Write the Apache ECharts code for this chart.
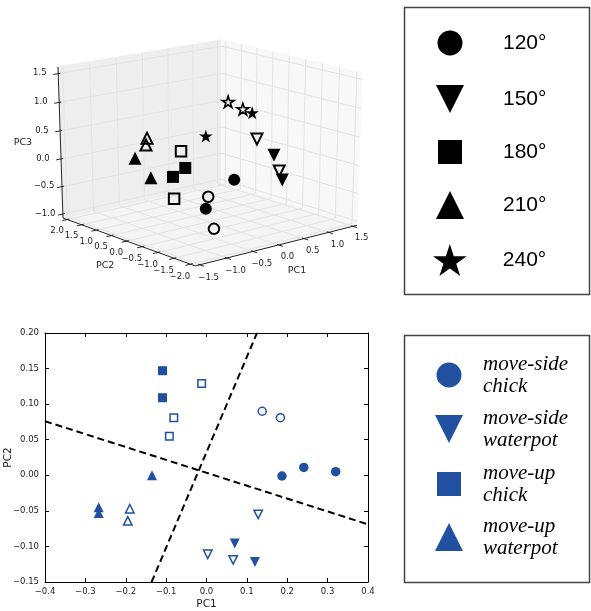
<!DOCTYPE html>
<html><head><meta charset="utf-8">
<script src="https://cdn.jsdelivr.net/npm/echarts@6/dist/echarts.min.js"></script>
<style>html,body{margin:0;padding:0;background:#fff}#c{width:591px;height:611px}</style>
</head><body><div id="c"></div>
<script>
// ================= DATA =================
// --- top panel: 3D PCA scores (PC1, PC2, PC3) per angle group ---
const angleNames = ['120°', '150°', '180°', '210°', '240°'];
const a120Filled = [[0.18, -0.5, -0.26], [-0.62, -0.9, -0.54]];
const a120Open   = [[-0.45, -0.7, -0.40], [-0.65, -1.2, -0.83]];
const a150Filled = [[0.64, -1.0, 0.17], [0.48, -1.5, -0.15]];
const a150Open   = [[0.43, -0.8, 0.46], [0.55, -1.3, -0.04]];
const a180Filled = [[-0.22, 0.4, -0.13], [-0.28, 0.7, -0.33]];
const a180Open   = [[-0.18, 0.6, 0.13], [-0.50, 0.3, -0.61]];
const a210Filled = [[-0.60, 1.4, -0.05], [-0.59, 0.9, -0.32]];
const a210Open   = [[-0.48, 1.2, 0.32], [-0.56, 1.1, 0.23]];
const a240Filled = [[0.06, 0.2, 0.42], [0.59, -0.4, 0.83]];
const a240Open   = [[0.37, 0.0, 1.00], [0.47, -0.3, 0.90]];
const pc1Ticks3d = [-1.5, -1.0, -0.5, 0.0, 0.5, 1.0, 1.5];
const pc2Ticks3d = [-2.0, -1.5, -1.0, -0.5, 0.0, 0.5, 1.0, 1.5, 2.0];
const pc3Ticks3d = [-1.0, -0.5, 0.0, 0.5, 1.0, 1.5];
const pc1Lim3d = [-1.52, 1.52];
const pc2Lim3d = [-2.06, 2.06];
const pc3Lim3d = [-1.02, 1.56];

// --- bottom panel: 2D PCA scores (PC1, PC2) ---
const groupNames = ['move-side chick', 'move-side waterpot', 'move-up chick', 'move-up waterpot'];
const msChickFilled = [[0.187, -0.001], [0.241, 0.011], [0.320, 0.005]];
const msChickOpen   = [[0.138, 0.090], [0.183, 0.081]];
const msWaterFilled = [[0.070, -0.096], [0.120, -0.122]];
const msWaterOpen   = [[0.128, -0.055], [0.003, -0.111], [0.066, -0.119]];
const muChickFilled = [[-0.109, 0.147], [-0.109, 0.109]];
const muChickOpen   = [[-0.012, 0.129], [-0.081, 0.081], [-0.092, 0.055]];
const muWaterFilled = [[-0.135, 0.000], [-0.267, -0.045], [-0.267, -0.053]];
const muWaterOpen   = [[-0.190, -0.047], [-0.195, -0.064]];
const boundaryA = [[-0.4, 0.076], [0.4, -0.069]];
const boundaryB = [[-0.136, -0.15], [0.125, 0.20]];
const pc1Ticks = [-0.4, 0.4, 0.1];   // min, max, step
const pc2Ticks = [-0.15, 0.20, 0.05];

// ================= 3D PROJECTION (matplotlib mplot3d style) =================
const VIEW = {elev: 19, azim: -130, dist: 10};
const project = (function () {
  const e = VIEW.elev * Math.PI / 180, a = VIEW.azim * Math.PI / 180;
  const n = [Math.cos(e) * Math.cos(a), Math.cos(e) * Math.sin(a), Math.sin(e)];
  let u = [-n[1], n[0], 0];
  const ul = Math.hypot(u[0], u[1]); u = [u[0] / ul, u[1] / ul, 0];
  const v = [n[1] * u[2] - n[2] * u[1], n[2] * u[0] - n[0] * u[2], n[0] * u[1] - n[1] * u[0]];
  return function (p) { // p in normalised box coordinates (0..1)
    const q = [p[0] - 0.5, p[1] - 0.5, p[2] - 0.5];
    const d = w => w[0] * q[0] + w[1] * q[1] + w[2] * q[2];
    const w = VIEW.dist - d(n);
    return [d(u) / w, d(v) / w];
  };
})();
const nx = x => (x - pc1Lim3d[0]) / (pc1Lim3d[1] - pc1Lim3d[0]);
const ny = y => (y - pc2Lim3d[0]) / (pc2Lim3d[1] - pc2Lim3d[0]);
const nz = z => (z - pc3Lim3d[0]) / (pc3Lim3d[1] - pc3Lim3d[0]);
const proj3 = p => project([nx(p[0]), ny(p[1]), nz(p[2])]);
const LO = -1 / 48, HI = 1 + 1 / 48;
const fmt = (v, d) => (Math.abs(v) < 1e-9 ? 0 : v).toFixed(d).replace('-', '\u2212');

// panes
const panes = [
  {pts: [[LO, LO, LO], [HI, LO, LO], [HI, HI, LO], [LO, HI, LO]], color: '#f4f4f4'},
  {pts: [[LO, HI, LO], [HI, HI, LO], [HI, HI, HI], [LO, HI, HI]], color: '#eeeeee'},
  {pts: [[HI, LO, LO], [HI, HI, LO], [HI, HI, HI], [HI, LO, HI]], color: '#f8f8f8'}
];
const paneData = panes.map(p => [].concat(...p.pts.map(project)));
// grid lines (3-point polylines)
const gridLines = [];
pc1Ticks3d.forEach(t => { const a = nx(t); gridLines.push([[a, LO, LO], [a, HI, LO], [a, HI, HI]]); });
pc2Ticks3d.forEach(t => { const b = ny(t); gridLines.push([[HI, b, HI], [HI, b, LO], [LO, b, LO]]); });
pc3Ticks3d.forEach(t => { const c = nz(t); gridLines.push([[LO, HI, c], [HI, HI, c], [HI, LO, c]]); });
const gridData = gridLines.map(l => [].concat(...l.map(project)));
// axis lines + tick marks
const OUT = 0.03, IN = 0.013;
const segs = [
  [[LO, LO, LO], [HI, LO, LO]],
  [[LO, LO, LO], [LO, HI, LO]],
  [[LO, HI, LO], [LO, HI, HI]]
];
pc1Ticks3d.forEach(t => { const a = nx(t); segs.push([[a, LO - OUT, LO], [a, LO + IN, LO]]); });
pc2Ticks3d.forEach(t => { const b = ny(t); segs.push([[LO - OUT, b, LO], [LO + IN, b, LO]]); });
pc3Ticks3d.forEach(t => { const c = nz(t); segs.push([[LO - OUT, HI, c], [LO + IN, HI, c]]); });
const segData = segs.map(s => [].concat(...s.map(project)));
// tick labels
const D1 = 0.064, D2 = 0.133;
const tickLabels = [];
pc1Ticks3d.forEach(t => tickLabels.push({p: [nx(t), LO - D1, LO - D1], text: fmt(t, 1)}));
pc2Ticks3d.forEach(t => tickLabels.push({p: [LO - D1, ny(t), LO - D1], text: fmt(t, 1)}));
pc3Ticks3d.forEach(t => tickLabels.push({p: [LO - D1, HI + D1, nz(t)], text: fmt(t, 1)}));
const axisNames3d = [
  {p: [0.5, LO - D2, LO - D2], text: 'PC1'},
  {p: [LO - D2, 0.5, LO - D2], text: 'PC2'},
  {p: [LO - D2, HI + D2, 0.5], text: 'PC3'}
];

// ================= SYMBOLS =================
const DOWN_TRI = 'path://M0,0L200,0L100,200Z';
const STAR = 'path://M100,0L122.45,69.1L195.11,69.1L136.33,111.8L158.78,180.9L100,138.2L41.22,180.9L63.67,111.8L4.89,69.1L77.55,69.1Z';
const BLUE = '#2150a0';

function pts3(filled, open, openSize, bw) {
  return filled.map(p => ({value: proj3(p)})).concat(open.map(p => ({
    value: proj3(p), symbolSize: openSize,
    itemStyle: {color: 'rgba(0,0,0,0)', borderColor: '#000', borderWidth: bw}
  })));
}
function pts2(filled, open, openSize) {
  return filled.map(p => ({value: p})).concat(open.map(p => ({
    value: p, symbolSize: openSize,
    itemStyle: {color: 'rgba(0,0,0,0)', borderColor: BLUE, borderWidth: 1.5}
  })));
}

const FONT_TICK = {fontFamily: 'DejaVu Sans', fontSize: 8.5, color: '#222'};

const series = [
  { type: 'custom', xAxisIndex: 0, yAxisIndex: 0, z: 1, silent: true, data: paneData,
    renderItem: (params, api) => {
      const pts = []; for (let i = 0; i < 4; i++) pts.push(api.coord([api.value(2 * i), api.value(2 * i + 1)]));
      const c = panes[params.dataIndex].color;
      return {type: 'polygon', shape: {points: pts}, style: {fill: c, stroke: c, lineWidth: 1}};
    } },
  { type: 'custom', xAxisIndex: 0, yAxisIndex: 0, z: 2, silent: true, data: gridData,
    renderItem: (params, api) => {
      const pts = []; for (let i = 0; i < 3; i++) pts.push(api.coord([api.value(2 * i), api.value(2 * i + 1)]));
      return {type: 'polyline', shape: {points: pts}, style: {stroke: '#e4e4e4', lineWidth: 1, fill: null}};
    } },
  { type: 'custom', xAxisIndex: 0, yAxisIndex: 0, z: 3, silent: true, data: segData,
    renderItem: (params, api) => {
      const a = api.coord([api.value(0), api.value(1)]), b = api.coord([api.value(2), api.value(3)]);
      return {type: 'line', shape: {x1: a[0], y1: a[1], x2: b[0], y2: b[1]}, style: {stroke: '#111', lineWidth: 0.9}};
    } },
  { type: 'custom', xAxisIndex: 0, yAxisIndex: 0, z: 3, silent: true,
    data: tickLabels.map(t => project(t.p)),
    renderItem: (params, api) => {
      const c = api.coord([api.value(0), api.value(1)]);
      return {type: 'text', x: c[0], y: c[1], style: {text: tickLabels[params.dataIndex].text,
        fill: '#222', fontFamily: 'DejaVu Sans', fontSize: 8.5, align: 'center', verticalAlign: 'middle'}};
    } },
  { type: 'custom', xAxisIndex: 0, yAxisIndex: 0, z: 3, silent: true,
    data: axisNames3d.map(t => project(t.p)),
    renderItem: (params, api) => {
      const c = api.coord([api.value(0), api.value(1)]);
      return {type: 'text', x: c[0], y: c[1], style: {text: axisNames3d[params.dataIndex].text,
        fill: '#222', fontFamily: 'DejaVu Sans', fontSize: 9.5, align: 'center', verticalAlign: 'middle'}};
    } },
  { type: 'scatter', name: angleNames[0], xAxisIndex: 0, yAxisIndex: 0, z: 5, silent: true,
    symbol: 'circle', symbolSize: 12, itemStyle: {color: '#000', opacity: 1},
    data: pts3(a120Filled, a120Open, 10.5, 2) },
  { type: 'scatter', name: angleNames[1], xAxisIndex: 0, yAxisIndex: 0, z: 5, silent: true,
    symbol: DOWN_TRI, symbolSize: 13, itemStyle: {color: '#000', opacity: 1},
    data: pts3(a150Filled, a150Open, 11, 2) },
  { type: 'scatter', name: angleNames[2], xAxisIndex: 0, yAxisIndex: 0, z: 5, silent: true,
    symbol: 'rect', symbolSize: 12, itemStyle: {color: '#000', opacity: 1},
    data: pts3(a180Filled, a180Open, 10.5, 2) },
  { type: 'scatter', name: angleNames[3], xAxisIndex: 0, yAxisIndex: 0, z: 5, silent: true,
    symbol: 'triangle', symbolSize: 13, itemStyle: {color: '#000', opacity: 1},
    data: pts3(a210Filled, a210Open, 11, 2) },
  { type: 'scatter', name: angleNames[4], xAxisIndex: 0, yAxisIndex: 0, z: 5, silent: true,
    symbol: STAR, symbolSize: [13.5, 12.8], itemStyle: {color: '#000', opacity: 1},
    data: pts3(a240Filled, a240Open, [12, 11.4], 1.6) },
  // ---- 2D panel ----
  { type: 'line', xAxisIndex: 1, yAxisIndex: 1, z: 3, silent: true, symbol: 'none', data: boundaryA,
    lineStyle: {color: '#000', width: 2, type: [7, 4]} },
  { type: 'line', xAxisIndex: 1, yAxisIndex: 1, z: 3, silent: true, symbol: 'none', data: boundaryB,
    lineStyle: {color: '#000', width: 2, type: [7, 4]} },
  { type: 'scatter', name: groupNames[0], xAxisIndex: 1, yAxisIndex: 1, z: 5, silent: true,
    symbol: 'circle', symbolSize: 9.5, itemStyle: {color: BLUE, opacity: 1},
    data: pts2(msChickFilled, msChickOpen, 8) },
  { type: 'scatter', name: groupNames[1], xAxisIndex: 1, yAxisIndex: 1, z: 5, silent: true,
    symbol: DOWN_TRI, symbolSize: 10, itemStyle: {color: BLUE, opacity: 1},
    data: pts2(msWaterFilled, msWaterOpen, 8.5) },
  { type: 'scatter', name: groupNames[2], xAxisIndex: 1, yAxisIndex: 1, z: 5, silent: true,
    symbol: 'rect', symbolSize: 9, itemStyle: {color: BLUE, opacity: 1},
    data: pts2(muChickFilled, muChickOpen, 7.5) },
  { type: 'scatter', name: groupNames[3], xAxisIndex: 1, yAxisIndex: 1, z: 5, silent: true,
    symbol: 'triangle', symbolSize: 10, itemStyle: {color: BLUE, opacity: 1},
    data: pts2(muWaterFilled, muWaterOpen, 8.5) }
];

// ================= LEGENDS =================
const legends = [];
const topLegend = [ // [name, iconW, iconH, centerY]
  [angleNames[0], 25, 25, 43], [angleNames[1], 28, 28, 99], [angleNames[2], 24, 24, 152],
  [angleNames[3], 28, 28, 205], [angleNames[4], 34, 32, 260]
];
topLegend.forEach(([nm, w, h, cy]) => legends.push({
  data: [nm], selectedMode: false, orient: 'vertical', padding: 0,
  itemWidth: w, itemHeight: h, left: 450 - w / 2, top: cy - h / 2,
  textStyle: {fontFamily: 'Liberation Sans', fontSize: 21, lineHeight: 22, color: '#000', padding: [0, 0, 0, 48 - w / 2]}
}));
const bottomLegend = [
  [groupNames[0], 25, 25, 375], [groupNames[1], 28, 28, 429],
  [groupNames[2], 24, 24, 484], [groupNames[3], 28, 28, 537]
];
bottomLegend.forEach(([nm, w, h, cy]) => legends.push({
  data: [nm], selectedMode: false, orient: 'vertical', padding: 0,
  itemWidth: w, itemHeight: h, left: 449 - w / 2, top: cy - 22,
  formatter: s => s.replace(' ', '\n'),
  textStyle: {fontFamily: 'Liberation Serif', fontStyle: 'italic', fontSize: 21, lineHeight: 22, color: '#000', padding: [0, 0, 0, 29 - w / 2]}
}));

const axis2 = (extra) => Object.assign({
  type: 'value', gridIndex: 1, splitLine: {show: false},
  axisLine: {show: true, onZero: false, lineStyle: {color: '#000', width: 1}},
  axisTick: {show: true, inside: true, length: 4, lineStyle: {color: '#000', width: 1}},
}, extra);

const option = {
  animation: false,
  backgroundColor: '#fff',
  grid: [
    {left: 15.6, top: 8.3, width: 376.8, height: 285.1, outerBoundsMode: 'none', containLabel: false},
    {left: 45, top: 333, width: 323, height: 249, outerBoundsMode: 'none', containLabel: false}
  ],
  xAxis: [
    {type: 'value', gridIndex: 0, min: -0.095, max: 0.09, show: false},
    axis2({min: pc1Ticks[0], max: pc1Ticks[1], interval: pc1Ticks[2], position: 'bottom',
      name: 'PC1', nameLocation: 'middle', nameGap: 17, nameMoveOverlap: false,
      nameTextStyle: {fontFamily: 'DejaVu Sans', fontSize: 10.5, color: '#222'},
      axisLabel: Object.assign({margin: 5, formatter: v => fmt(v, 1)}, FONT_TICK)}),
    axis2({min: pc1Ticks[0], max: pc1Ticks[1], interval: pc1Ticks[2], position: 'top', axisLabel: {show: false}})
  ],
  yAxis: [
    {type: 'value', gridIndex: 0, min: -0.095, max: 0.09, show: false},
    axis2({min: pc2Ticks[0], max: pc2Ticks[1], interval: pc2Ticks[2], position: 'left',
      name: 'PC2', nameLocation: 'middle', nameGap: 31, nameMoveOverlap: false,
      nameTextStyle: {fontFamily: 'DejaVu Sans', fontSize: 10.5, color: '#222'},
      axisLabel: Object.assign({margin: 6, formatter: v => fmt(v, 2)}, FONT_TICK)}),
    axis2({min: pc2Ticks[0], max: pc2Ticks[1], interval: pc2Ticks[2], position: 'right', axisLabel: {show: false}})
  ],
  legend: legends,
  graphic: [
    {type: 'rect', shape: {x: 404.5, y: 7.5, width: 185, height: 287}, style: {fill: 'none', stroke: '#444', lineWidth: 1.5}, z: 0},
    {type: 'rect', shape: {x: 404.5, y: 335.5, width: 185, height: 247}, style: {fill: 'none', stroke: '#444', lineWidth: 1.5}, z: 0}
  ],
  series: series
};
const chart = echarts.init(document.getElementById('c'), null, {renderer: 'canvas'});
chart.setOption(option);
</script>
</body></html>
